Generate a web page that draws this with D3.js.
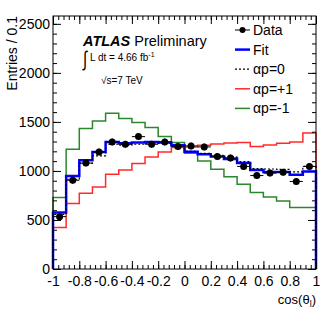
<!DOCTYPE html>
<html>
<head>
<meta charset="utf-8">
<script src="https://cdn.jsdelivr.net/npm/d3@7"></script>
<style>
  body { margin: 0; background: #fff; }
  svg text { font-family: "Liberation Sans", Arial, sans-serif; }
</style>
</head>
<body>
<svg></svg>
<script>
var width = 332;
var height = 321;

// 20 bins of width 0.1 on cos(theta_l)
var binEdges = d3.range(21).map(function(i) { return -1 + i * 0.1; });
var dataVals = [534, 905, 1080, 1194, 1296, 1272, 1350, 1272, 1296, 1248, 1255, 1245, 1146, 1132, 1046, 953, 978, 986, 893, 1046];
var dataErr = 35;
var fitVals = [575, 949, 1109, 1194, 1296, 1282, 1289, 1296, 1289, 1262, 1195, 1170, 1146, 1122, 1082, 1010, 988, 988, 960, 995];
var ap0Vals = [558, 915, 1078, 1153, 1272, 1262, 1272, 1280, 1280, 1255, 1200, 1180, 1160, 1140, 1095, 1025, 1020, 1015, 990, 1046];
var apPlusVals = [422, 667, 772, 837, 966, 1010, 1075, 1143, 1194, 1238, 1245, 1262, 1275, 1285, 1289, 1250, 1265, 1282, 1295, 1388];
var apMinusVals = [728, 1221, 1432, 1510, 1588, 1534, 1493, 1442, 1350, 1289, 1180, 1102, 1017, 942, 864, 779, 735, 694, 626, 626];

var xMajor = [-1, -0.8, -0.6, -0.4, -0.2, 0, 0.2, 0.4, 0.6, 0.8, 1];
var yMajor = [0, 500, 1000, 1500, 2000, 2500];

var svg = d3.select("svg")
            .attr("width", width)
            .attr("height", height);

var padL = 53, padR = 316, padT = 16, padB = 269;

var xScale = d3.scaleLinear()
               .domain([-1, 1])
               .range([padL, padR]);

var yScale = d3.scaleLinear()
               .domain([0, 2580])
               .range([padB, padT]);

function stepPath(vals) {
  var p = d3.path();
  p.moveTo(xScale(-1), yScale(0));
  vals.forEach(function(v, i) {
    p.lineTo(xScale(binEdges[i]), yScale(v));
    p.lineTo(xScale(binEdges[i + 1]), yScale(v));
  });
  p.lineTo(xScale(1), yScale(0));
  return p.toString();
}

var g = svg.append("g");

g.append("path").attr("d", stepPath(apMinusVals))
  .attr("fill", "none").attr("stroke", "#2c862c").attr("stroke-width", 1.5);
g.append("path").attr("d", stepPath(apPlusVals))
  .attr("fill", "none").attr("stroke", "#ff2b2b").attr("stroke-width", 1.5);
g.append("path").attr("d", stepPath(fitVals))
  .attr("fill", "none").attr("stroke", "#0000ff").attr("stroke-width", 2.5);
g.append("path").attr("d", stepPath(ap0Vals))
  .attr("fill", "none").attr("stroke", "#000").attr("stroke-width", 1.2)
  .attr("stroke-dasharray", "2,2");

// data points with error bars
var pts = g.selectAll(".pt")
  .data(dataVals)
  .enter()
  .append("g");

pts.append("line")
  .attr("x1", function(d, i) { return xScale(binEdges[i]); })
  .attr("x2", function(d, i) { return xScale(binEdges[i + 1]); })
  .attr("y1", function(d) { return yScale(d); })
  .attr("y2", function(d) { return yScale(d); })
  .attr("stroke", "#000").attr("stroke-width", 1);

pts.append("line")
  .attr("x1", function(d, i) { return xScale(binEdges[i] + 0.05); })
  .attr("x2", function(d, i) { return xScale(binEdges[i] + 0.05); })
  .attr("y1", function(d) { return yScale(d - dataErr); })
  .attr("y2", function(d) { return yScale(d + dataErr); })
  .attr("stroke", "#000").attr("stroke-width", 1);

pts.append("circle")
  .attr("cx", function(d, i) { return xScale(binEdges[i] + 0.05); })
  .attr("cy", function(d) { return yScale(d); })
  .attr("r", 3.5)
  .attr("fill", "#000");

// frame
svg.append("rect")
  .attr("x", padL).attr("y", padT)
  .attr("width", padR - padL).attr("height", padB - padT)
  .attr("fill", "none").attr("stroke", "#000").attr("stroke-width", 1);

function fmtX(d) {
  return String(+d.toFixed(1)).replace("\u2212", "-");
}

var xMinor = d3.range(51).map(function(i) { return -1 + i * 0.04; });
var yMinor = d3.range(26).map(function(i) { return i * 100; });

// bottom axis
svg.append("g")
  .attr("transform", "translate(0," + padB + ")")
  .call(d3.axisBottom(xScale).tickValues(xMinor).tickSize(-4).tickFormat(""))
  .call(function(a) { a.select(".domain").remove(); });
svg.append("g")
  .attr("transform", "translate(0," + padB + ")")
  .call(d3.axisBottom(xScale).tickValues(xMajor).tickSize(-8).tickPadding(7).tickFormat(fmtX))
  .call(function(a) {
    a.select(".domain").remove();
    a.selectAll("text").attr("font-size", 14).attr("fill", "#000")
      .style("font-family", "Liberation Sans, Arial, sans-serif");
  });

// top axis
svg.append("g")
  .attr("transform", "translate(0," + padT + ")")
  .call(d3.axisTop(xScale).tickValues(xMinor).tickSize(-4).tickFormat(""))
  .call(function(a) { a.select(".domain").remove(); });
svg.append("g")
  .attr("transform", "translate(0," + padT + ")")
  .call(d3.axisTop(xScale).tickValues(xMajor).tickSize(-8).tickFormat(""))
  .call(function(a) { a.select(".domain").remove(); });

// left axis
svg.append("g")
  .attr("transform", "translate(" + padL + ",0)")
  .call(d3.axisLeft(yScale).tickValues(yMinor).tickSize(-4).tickFormat(""))
  .call(function(a) { a.select(".domain").remove(); });
svg.append("g")
  .attr("transform", "translate(" + padL + ",0)")
  .call(d3.axisLeft(yScale).tickValues(yMajor).tickSize(-8).tickPadding(3).tickFormat(d3.format("d")))
  .call(function(a) {
    a.select(".domain").remove();
    a.selectAll("text").attr("font-size", 14).attr("fill", "#000")
      .style("font-family", "Liberation Sans, Arial, sans-serif");
  });

// right axis
svg.append("g")
  .attr("transform", "translate(" + padR + ",0)")
  .call(d3.axisRight(yScale).tickValues(yMinor).tickSize(-4).tickFormat(""))
  .call(function(a) { a.select(".domain").remove(); });
svg.append("g")
  .attr("transform", "translate(" + padR + ",0)")
  .call(d3.axisRight(yScale).tickValues(yMajor).tickSize(-8).tickFormat(""))
  .call(function(a) { a.select(".domain").remove(); });

// axis titles
svg.append("text")
  .attr("transform", "translate(17," + padT + ") rotate(-90)")
  .attr("text-anchor", "end")
  .attr("font-size", 14)
  .text("Entries / 0.1");

var xt = svg.append("text")
  .attr("x", padR).attr("y", 304)
  .attr("text-anchor", "end")
  .attr("font-size", 13);
xt.append("tspan").text("cos(θ");
xt.append("tspan").attr("font-size", 9).attr("dy", 3).text("l");
xt.append("tspan").attr("dy", -3).text(")");

// ATLAS label
var at = svg.append("text").attr("x", 83).attr("y", 46).attr("font-size", 14.5);
at.append("tspan").attr("font-weight", "bold").attr("font-style", "italic").text("ATLAS");
at.append("tspan").text(" Preliminary");

svg.append("text").attr("x", 83).attr("y", 66).attr("font-size", 15)
  .attr("transform", "translate(83,66) scale(1,1.4) translate(-83,-66)")
  .attr("font-family", "DejaVu Sans").text("∫");
var lum = svg.append("text").attr("x", 90).attr("y", 61).attr("font-size", 10);
lum.append("tspan").text("L dt = 4.66 fb");
lum.append("tspan").attr("font-size", 7).attr("dy", -4).text("-1");

svg.append("text").attr("x", 101).attr("y", 84).attr("font-size", 10).text("√s=7 TeV");

// legend
var legendItems = [
  { label: "Data", color: "#000", width: 1, dash: null, marker: true },
  { label: "Fit", color: "#0000ff", width: 2.5, dash: null, marker: false },
  { label: "αp=0", color: "#000", width: 1.2, dash: "2,2", marker: false },
  { label: "αp=+1", color: "#ff2b2b", width: 1.5, dash: null, marker: false },
  { label: "αp=-1", color: "#2c862c", width: 1.5, dash: null, marker: false }
];

var leg = svg.selectAll(".leg")
  .data(legendItems)
  .enter()
  .append("g")
  .attr("transform", function(d, i) { return "translate(0," + (30 + i * 19.6) + ")"; });

leg.append("line")
  .attr("x1", 235).attr("x2", 250).attr("y1", 0).attr("y2", 0)
  .attr("stroke", function(d) { return d.color; })
  .attr("stroke-width", function(d) { return d.width; })
  .attr("stroke-dasharray", function(d) { return d.dash; });

leg.filter(function(d) { return d.marker; })
  .append("circle")
  .attr("cx", 242.5).attr("cy", 0).attr("r", 3).attr("fill", "#000");

leg.append("text")
  .attr("x", 253).attr("y", 5)
  .attr("font-size", 14)
  .text(function(d) { return d.label; });
</script>
</body>
</html>
